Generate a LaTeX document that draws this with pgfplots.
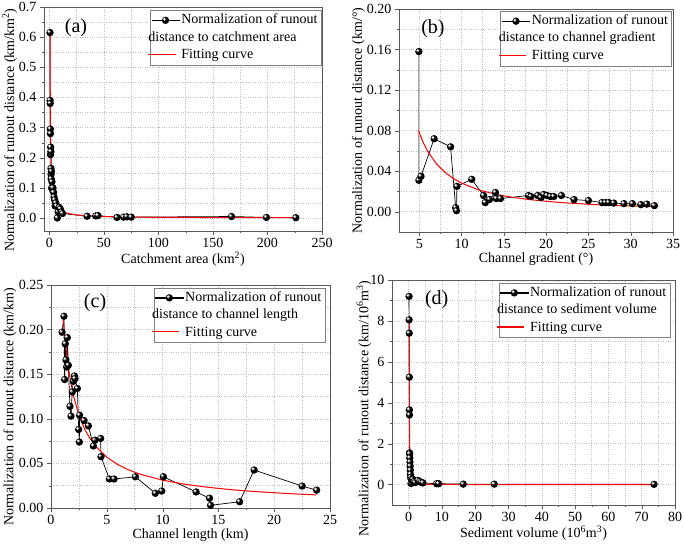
\documentclass[border=0pt]{standalone}
\usepackage{fontspec}
\setmainfont{Liberation Serif}
\usepackage{pgfplots}
\pgfplotsset{compat=1.18}

\pgfdeclareplotmark{myball}{%
  \pgfpathcircle{\pgfpointorigin}{\pgfplotmarksize}%
  \pgfsetfillcolor{black}\pgfusepathqfill
  \pgfpathcircle{\pgfpoint{-0.28\pgfplotmarksize}{0.28\pgfplotmarksize}}{0.5\pgfplotmarksize}%
  \pgfsetfillcolor{black!45}\pgfusepathqfill
  \pgfpathcircle{\pgfpoint{-0.33\pgfplotmarksize}{0.33\pgfplotmarksize}}{0.25\pgfplotmarksize}%
  \pgfsetfillcolor{white}\pgfusepathqfill
}
\newcommand{\fitentry}{\hspace*{-33pt}\textcolor{red}{\rule[3.6pt]{27.2pt}{1.1pt}}\hspace{5.8pt}Fitting curve}

\tikzset{plab/.style={font=\fontsize{20}{22}\selectfont}}
\pgfplotsset{
  myaxis/.style={
    scale only axis,
    anchor=south west,
    font=\fontsize{14}{16}\selectfont,
    tick label style={font=\fontsize{14}{16}\selectfont},
    /pgf/number format/assume math mode=true,
    axis line style={black!65},
    tick style={black!65},
    tick align=outside,
    tick pos=left,
    minor tick num=1,
    major tick length=4pt,
    minor tick length=2pt,
    grid=both,
    major grid style={gray!50, dotted, line width=0.6pt},
    minor grid style={gray!50, dotted, line width=0.6pt},
    legend cell align=left,
    legend style={draw=black!50, font=\fontsize{14}{16}\selectfont, anchor=north east,
      inner xsep=1.5pt, inner ysep=3pt, row sep=4pt,
      nodes={inner xsep=2pt, inner ysep=0pt, text height=10pt, text depth=3.5pt}},
    xlabel style={font=\fontsize{14}{16}\selectfont, yshift=3pt},
  },
  dataser/.style={color=black, line width=0.7pt, mark=myball, mark size=3.7pt},
  fitser/.style={color=red, line width=1pt, no marks},
  datalegend/.style={legend image code/.code={%
      \fill[black] (0cm,-0.35pt) rectangle (0.96cm,0.35pt);
      \draw[black] plot[mark=myball, mark size=3.7pt] coordinates {(0.48cm,0cm)};}},
}

\begin{document}
\begin{tikzpicture}
\useasboundingbox (0pt,0pt) rectangle (685pt,546pt);

% ---------------- (a)
\begin{axis}[myaxis,
  at={(44pt,315pt)}, width=278pt, height=224pt,
  xmin=-5, xmax=250, ymin=-0.043, ymax=0.7,
  xtick={0,50,100,150,200,250},
  ytick={0,0.1,0.2,0.3,0.4,0.5,0.6,0.7},
  yticklabel style={/pgf/number format/.cd, fixed, fixed zerofill, precision=1},
  xlabel={Catchment area (km\textsuperscript{2})},
  ylabel={Normalization of runout distance (km/km\textsuperscript{2})},
  ylabel style={font=\fontsize{14}{16}\selectfont, at={(axis description cs:-0.123,0.45)}, anchor=center},
  legend style={at={(0.997,0.985)}},
]
\addplot[dataser, forget plot] coordinates {
(0.5,0.615) (0.6,0.39) (0.7,0.38) (0.8,0.295) (0.9,0.28) (1.0,0.21) (1.1,0.235)
(1.3,0.22) (1.4,0.165) (1.5,0.145) (1.6,0.13) (1.8,0.155) (2.0,0.10) (2.3,0.12)
(2.7,0.095) (3.2,0.10) (3.8,0.085) (4.2,0.07) (4.8,0.06) (5.2,0.04) (5.8,0.05)
(6.5,0.04) (7.2,0.0) (8.0,0.02) (9.0,0.035) (10.0,0.03) (11.0,0.02) (12.0,0.015)
(34.5,0.006) (42.5,0.007) (44.5,0.008) (62,0.002) (68,0.003) (71,0.004) (75,0.003)
(167,0.005) (199,0.002) (226,0.001)
};
\addplot[fitser, forget plot] coordinates {
(0.5,0.621) (0.6,0.513) (0.7,0.436) (0.8,0.379) (1,0.300) (1.2,0.248) (1.5,0.196)
(2,0.145) (2.5,0.115) (3,0.095) (4,0.070) (5,0.055) (6,0.046) (8,0.034) (10,0.027)
(15,0.0175) (20,0.0129) (30,0.0084) (50,0.0049) (75,0.0032) (100,0.0024)
(150,0.0016) (200,0.0012) (226,0.0010)
};
\addlegendimage{datalegend}
\addlegendentry{Normalization of runout}
\addlegendimage{empty legend}
\addlegendentry{\hspace*{-33pt}distance to catchment area}
\addlegendimage{empty legend}
\addlegendentry{\fitentry}
\node[plab] at (rel axis cs:0.115,0.906) {(a)};
\end{axis}

% ---------------- (b)
\begin{axis}[myaxis,
  at={(399pt,314pt)}, width=274pt, height=223pt,
  xmin=2.6, xmax=35, ymin=-0.02, ymax=0.2,
  xtick={5,10,15,20,25,30,35},
  ytick={0,0.04,0.08,0.12,0.16,0.20},
  yticklabel style={/pgf/number format/.cd, fixed, fixed zerofill, precision=2},
  xlabel={Channel gradient (°)},
  ylabel={Normalization of runout distance (km/°)},
  ylabel style={font=\fontsize{14}{16}\selectfont, at={(axis description cs:-0.148,0.5)}, anchor=center},
  legend style={at={(0.995,0.99)}},
]
\addplot[dataser, forget plot] coordinates {
(4.95,0.158) (4.95,0.031) (5.2,0.035) (6.75,0.072) (8.7,0.064) (9.3,0.004)
(9.4,0.001) (9.45,0.025) (11.2,0.032) (12.6,0.016) (12.8,0.009) (13.3,0.012)
(14.0,0.019) (14.1,0.013) (14.6,0.013) (17.9,0.016) (18.2,0.015) (19.0,0.016)
(19.4,0.014) (19.7,0.017) (20.1,0.016) (20.5,0.015) (20.9,0.015) (21.8,0.016)
(23.3,0.012) (25.0,0.011) (26.6,0.009) (27.0,0.009) (27.4,0.009) (28.0,0.0085)
(29.2,0.008) (30.2,0.008) (31.2,0.007) (31.9,0.0075) (32.8,0.006)
};
\addplot[fitser, forget plot] coordinates {
(4.9,0.080) (5.5,0.0676) (6,0.0595) (7,0.0475) (8,0.0391) (9,0.0329) (10,0.0282)
(12,0.0216) (14,0.0173) (16,0.0142) (18,0.0120) (20,0.0103) (22,0.0089)
(25,0.0074) (28,0.0063) (30,0.0057) (32.8,0.0050)
};
\addlegendimage{datalegend}
\addlegendentry{Normalization of runout}
\addlegendimage{empty legend}
\addlegendentry{\hspace*{-33pt}distance to channel gradient}
\addlegendimage{empty legend}
\addlegendentry{\fitentry}
\node[plab] at (rel axis cs:0.124,0.91) {(b)};
\end{axis}

% ---------------- (c)
\begin{axis}[myaxis,
  at={(51pt,38pt)}, width=279pt, height=223pt,
  xmin=0, xmax=25, ymin=0, ymax=0.25,
  xtick={0,5,10,15,20,25},
  ytick={0,0.05,0.10,0.15,0.20,0.25},
  yticklabel style={/pgf/number format/.cd, fixed, fixed zerofill, precision=2},
  xlabel={Channel length (km)},
  ylabel={Normalization of runout distance (km/km)},
  ylabel style={font=\fontsize{14}{16}\selectfont, at={(axis description cs:-0.147,0.453)}, anchor=center},
  legend style={at={(0.982,0.987)}},
  clip=false,
]
\addplot[dataser, forget plot] coordinates {
(0.99,0.197) (1.16,0.215) (1.22,0.144) (1.28,0.184) (1.34,0.166) (1.40,0.158)
(1.46,0.191) (1.55,0.160) (1.70,0.114) (1.79,0.103) (1.90,0.130) (2.0,0.142)
(2.1,0.148) (2.15,0.145) (2.36,0.134) (2.48,0.088) (2.54,0.074) (2.56,0.104)
(2.96,0.098) (3.35,0.092) (3.8,0.0695) (3.94,0.076) (4.45,0.078) (4.48,0.0575)
(5.23,0.0325) (5.65,0.0325) (7.56,0.035) (9.35,0.0165) (9.92,0.019) (10.07,0.035)
(13.0,0.018) (14.2,0.011) (14.3,0.003) (16.9,0.007) (18.2,0.0426) (22.5,0.0246)
(23.8,0.020)
};
\addplot[fitser, forget plot] coordinates {
(1.1,0.2126) (1.3,0.1839) (1.5,0.1623) (1.75,0.142) (2,0.1264) (2.5,0.1041)
(3,0.0888) (3.5,0.0777) (4,0.0692) (5,0.057) (6,0.0486) (7,0.0425) (8,0.0378)
(10,0.0312) (12,0.0266) (14,0.0233) (16,0.0207) (18,0.0187) (20,0.0171)
(22,0.0157) (23.8,0.0147)
};
\addlegendimage{datalegend}
\addlegendentry{Normalization of runout}
\addlegendimage{empty legend}
\addlegendentry{\hspace*{-33pt}distance to channel length}
\addlegendimage{empty legend}
\addlegendentry{\fitentry}
\node[plab] at (rel axis cs:0.158,0.919) {(c)};
\end{axis}

% ---------------- (d)
\begin{axis}[myaxis,
  at={(392pt,41pt)}, width=283pt, height=225pt,
  xmin=-5, xmax=80, ymin=-1, ymax=10,
  xtick={0,10,20,30,40,50,60,70,80},
  ytick={0,2,4,6,8,10},
  xlabel={Sediment volume (10\textsuperscript{6}m\textsuperscript{3})},
  ylabel={Normalization of runout distance (km/10\textsuperscript{6}m\textsuperscript{3})},
  ylabel style={font=\fontsize{14}{16}\selectfont, at={(axis description cs:-0.099,0.43)}, anchor=center},
  legend style={at={(0.982,0.987)}},
]
\addplot[dataser, forget plot] coordinates {
(0.12,9.2) (0.15,8.05) (0.17,7.4) (0.2,5.25) (0.22,3.65) (0.24,3.4) (0.26,1.55)
(0.3,1.5) (0.35,1.3) (0.4,1.1) (0.45,0.9) (0.5,0.7) (0.55,0.5) (0.6,0.35)
(0.7,0.05) (0.8,0.25) (1.0,0.2) (1.3,0.25) (1.6,0.15) (2.0,0.1) (2.8,0.2)
(3.3,0.15) (3.8,0.1) (4.3,0.08) (8.4,0.04) (9.0,0.04) (16.4,0.02) (25.7,0.02)
(73.7,0.01)
};
\addplot[fitser, forget plot] coordinates {
(0.15,8.0) (0.17,6.3) (0.2,4.6) (0.25,3.0) (0.3,2.1) (0.4,1.2) (0.5,0.8)
(0.7,0.43) (1.0,0.22) (1.5,0.10) (2,0.058) (3,0.027) (5,0.010) (10,0.003)
(30,0.0) (73.7,0.0)
};
\addlegendimage{datalegend}
\addlegendentry{Normalization of runout}
\addlegendimage{empty legend}
\addlegendentry{\hspace*{-33pt}distance to sediment volume}
\addlegendimage{empty legend}
\addlegendentry{\fitentry}
\node[plab] at (rel axis cs:0.158,0.911) {(d)};
\end{axis}
\end{tikzpicture}
\end{document}
